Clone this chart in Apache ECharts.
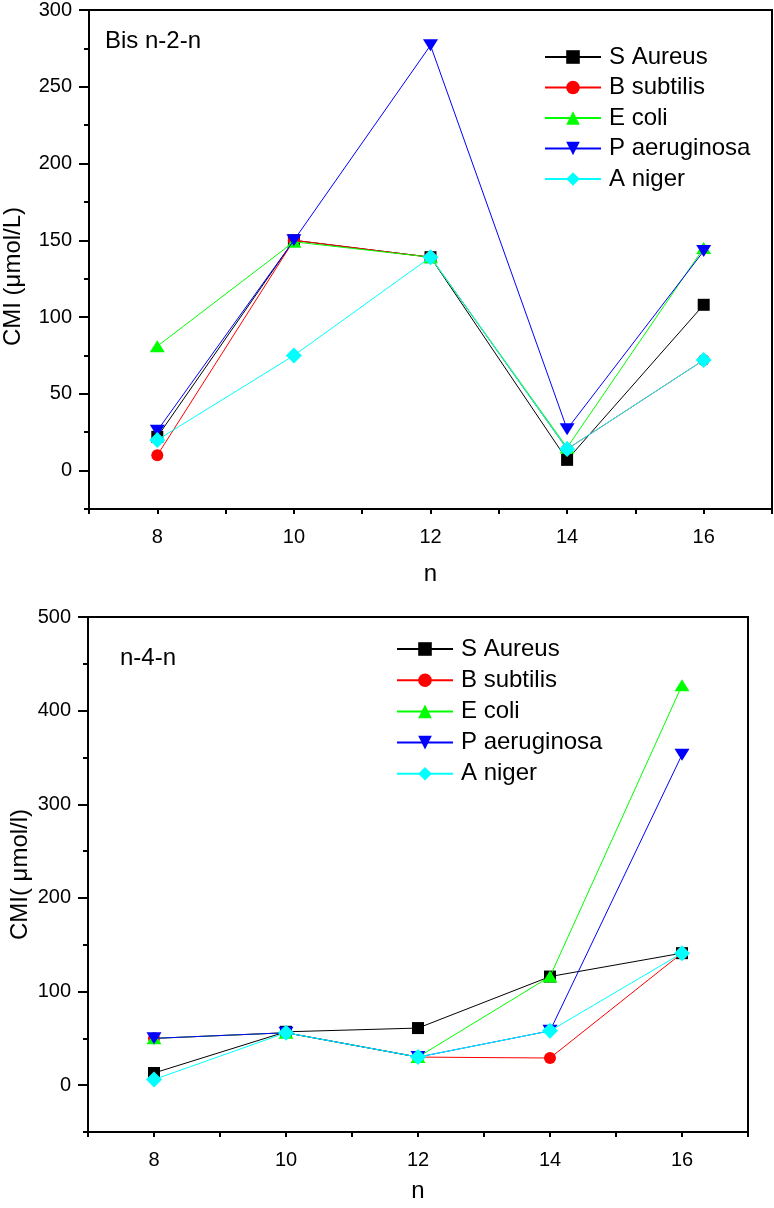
<!DOCTYPE html>
<html>
<head>
<meta charset="utf-8">
<script src="https://cdn.jsdelivr.net/npm/echarts@6/dist/echarts.min.js"></script>
<style>
  html, body { margin: 0; padding: 0; background: #fff; }
  #main { width: 774px; height: 1208px; }
</style>
</head>
<body>
<div id="main"></div>
<script>
// x 轴数值
var nValues = [8, 10, 12, 14, 16];
var seriesNames = ['S Aureus', 'B subtilis', 'E coli', 'P aeruginosa', 'A niger'];

// 上图 Bis n-2-n
var topSAureus = [22, 150, 139, 7, 108];
var topBSubtilis = [10, 150, 139, 14, 72];
var topEColi = [81, 149, 139, 15, 145];
var topPAeruginosa = [26, 150, 277, 27, 143];
var topANiger = [20, 75, 139, 14, 72];

// 下图 n-4-n
var botSAureus = [13, 57, 61, 116, 141];
var botBSubtilis = [50, 56, 30, 29, 141];
var botEColi = [50, 56, 30, 116, 427];
var botPAeruginosa = [50, 56, 30, 58, 353];
var botANiger = [6, 56, 30, 58, 141];

// y 轴刻度
var topYLabels = [0, 50, 100, 150, 200, 250, 300];
var topYMinor = [-25, 25, 75, 125, 175, 225, 275];
var botYLabels = [0, 100, 200, 300, 400, 500];
var botYMinor = [-50, 50, 150, 250, 350, 450];

var FONT = 'Liberation Sans, Arial, sans-serif';
var colors = ['#000000', '#ff0000', '#00ff00', '#0000ff', '#00ffff'];
var symbols = ['rect', 'circle', 'triangle', 'triangle', 'diamond'];
var symSizes = [12, 12, [15, 12], [15, 12], 16];
var symRotates = [0, 0, 0, 180, 0];

var chart = echarts.init(document.getElementById('main'));

function toPairs(vals) {
    var out = [];
    for (var i = 0; i < nValues.length; i++) {
        out.push([nValues[i], vals[i]]);
    }
    return out;
}

function makeSeries(dataList, xi, yi) {
    var list = [];
    for (var i = 0; i < seriesNames.length; i++) {
        list.push({
            name: seriesNames[i],
            type: 'line',
            xAxisIndex: xi,
            yAxisIndex: yi,
            data: toPairs(dataList[i]),
            symbol: symbols[i],
            symbolSize: symSizes[i],
            symbolRotate: symRotates[i],
            showAllSymbol: true,
            color: colors[i],
            lineStyle: { width: 1, color: colors[i] },
            itemStyle: { color: colors[i] },
            emphasis: { disabled: true },
            animation: false,
            z: 2 + i
        });
    }
    return list;
}

function xAxisOf(gi, gap) {
    return {
        type: 'value', gridIndex: gi, min: 7, max: 17, interval: 1,
        name: 'n', nameLocation: 'middle', nameGap: gap,
        nameTextStyle: { fontFamily: FONT, fontSize: 24, color: '#000' },
        axisLine: { onZero: false, lineStyle: { color: '#000', width: 2 } },
        axisTick: { length: 5, lineStyle: { color: '#000', width: 2 } },
        axisLabel: {
            fontFamily: FONT, fontSize: 20, color: '#000', margin: 18,
            formatter: function (v) { return v % 2 === 0 ? String(v) : ''; }
        },
        splitLine: { show: false }
    };
}

function yAxisOf(gi, min, max, labels, name, gap, pad) {
    return {
        type: 'value', gridIndex: gi, min: min, max: max, position: 'left',
        name: name, nameLocation: 'middle', nameGap: gap, nameMoveOverlap: false,
        nameTextStyle: { fontFamily: FONT, fontSize: 24, color: '#000', padding: pad },
        axisLine: { onZero: false, lineStyle: { color: '#000', width: 2 } },
        axisTick: { length: 10, customValues: labels, lineStyle: { color: '#000', width: 2 } },
        axisLabel: { fontFamily: FONT, fontSize: 20, color: '#000', margin: 17, customValues: labels },
        splitLine: { show: false }
    };
}

function yMinorOf(gi, min, max, minor) {
    return {
        type: 'value', gridIndex: gi, min: min, max: max, position: 'left', offset: 0,
        axisLine: { show: false, onZero: false },
        axisTick: { length: 5, customValues: minor, lineStyle: { color: '#000', width: 2 } },
        axisLabel: { show: false },
        splitLine: { show: false }
    };
}

var legendBase = {
    orient: 'vertical',
    itemWidth: 56,
    itemHeight: 17,
    itemGap: 6.5,
    padding: 0,
    selectedMode: false,
    textStyle: { fontFamily: FONT, fontSize: 24, color: '#000', lineHeight: 24, padding: [0, 0, 0, 3] },
    data: seriesNames
};

var option = {
    backgroundColor: '#fff',
    animation: false,
    title: [
        { text: 'Bis n-2-n', left: 105, top: 29, padding: 0,
          textStyle: { fontFamily: FONT, fontSize: 24, fontWeight: 'normal', color: '#000' } },
        { text: 'n-4-n', left: 120, top: 646, padding: 0,
          textStyle: { fontFamily: FONT, fontSize: 24, fontWeight: 'normal', color: '#000' } }
    ],
    legend: [
        Object.assign({}, legendBase, { left: 544, top: 45 }),
        Object.assign({}, legendBase, { left: 396, top: 637, itemGap: 7.2 })
    ],
    grid: [
        { left: 89, top: 10, width: 683, height: 499, show: true, borderColor: '#000', borderWidth: 2,
          containLabel: false, outerBoundsMode: 'none' },
        { left: 88, top: 617, width: 660, height: 515, show: true, borderColor: '#000', borderWidth: 2,
          containLabel: false, outerBoundsMode: 'none' }
    ],
    xAxis: [xAxisOf(0, 53), xAxisOf(1, 47)],
    yAxis: [
        yAxisOf(0, -25, 300, topYLabels, 'CMI (μmol/L)', 64, [0, 34, 0, 0]),
        yMinorOf(0, -25, 300, topYMinor),
        yAxisOf(1, -50, 500, botYLabels, 'CMI( μmol/l)', 56, 0),
        yMinorOf(1, -50, 500, botYMinor)
    ],
    series: makeSeries([topSAureus, topBSubtilis, topEColi, topPAeruginosa, topANiger], 0, 0)
        .concat(makeSeries([botSAureus, botBSubtilis, botEColi, botPAeruginosa, botANiger], 1, 2))
};

chart.setOption(option);
</script>
</body>
</html>
